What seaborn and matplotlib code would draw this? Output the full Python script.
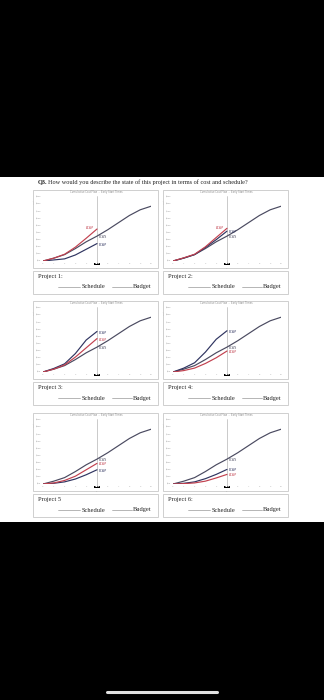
import matplotlib
matplotlib.use("Agg")
import numpy as np
import pandas as pd
import seaborn as sns
import matplotlib.pyplot as plt
from matplotlib.patches import Rectangle
from matplotlib.lines import Line2D

# ---------------- data ----------------
question = "How would you describe the state of this project in terms of cost and schedule?"
projects = ["Project 1:", "Project 2:", "Project 3:", "Project 4:", "Project 5", "Project 6:"]
periods = list(range(11))
status_period = 5
# cumulative planned value (BCWS), same baseline for every project ($K)
bcws = [0, 4, 9, 17.5, 27, 35, 44, 54, 64, 72, 77]
# earned value (BCWP) and actual cost (ACWP) up to the status date ($K)
bcwp = [
    [0, 1.5, 3, 8.5, 16.5, 24.5],
    [0, 4.2, 9, 19, 30, 42],
    [0, 5, 11.5, 26, 45, 57],
    [0, 5.5, 13, 28, 46, 58],
    [0, 1, 3, 7, 13, 20],
    [0, 1, 3, 7.5, 13.5, 20.5],
]
acwp = [
    [0, 4, 9.5, 19.5, 32, 45],
    [0, 4.5, 9.5, 20, 33, 46],
    [0, 4, 10, 21, 34, 47],
    [0, 2, 5.5, 12, 20, 29.5],
    [0, 1.5, 5, 11, 20, 29],
    [0, 0.5, 1.5, 4, 8.5, 13.5],
]
y_ticks = list(range(0, 100, 10))
y_tick_labels = ["$" + str(v) + "K" for v in y_ticks]
chart_title = "Cumulative Cost Flow  -  Early Start Times"
blank_labels = ["Schedule", "Budget"]

# ---------------- style ----------------
sns.set_theme(style="white")
plt.rcParams['font.family'] = ['Liberation Serif', 'DejaVu Serif']

C_PV = "#4a4a60"
C_EV = "#2f3460"
C_AC = "#c2414f"
BOX = "#c8c8c8"

W, H = 324, 700
fig = plt.figure(figsize=(W / 100, H / 100), dpi=100, facecolor="black")


def fy(py):
    return 1 - py / H


def rect(x, y, w, h):
    return [x / W, 1 - (y + h) / H, w / W, h / H]


# white page area
fig.patches.append(Rectangle((0, fy(522)), 1, (522 - 177) / H, transform=fig.transFigure,
                             facecolor="white", edgecolor="none", zorder=-5))

fig.text(38 / W, fy(182), "Q3.", fontsize=4.5, fontweight="bold", color="#222222",
         va="center", ha="left")
fig.text(48.5 / W, fy(182), question, fontsize=4.5, color="#222222", va="center", ha="left")

col_x = [33, 163]
row_y = [190, 301, 413]
label_left = [True, True, False, False, False, False]

for i in range(6):
    bx = col_x[i % 2]
    by = row_y[i // 2]
    # chart frame
    fig.patches.append(Rectangle((bx / W, fy(by + 78)), 125 / W, 78 / H, transform=fig.transFigure,
                                 facecolor="none", edgecolor=BOX, lw=0.6))
    fig.text((bx + 63) / W, fy(by + 2.5), chart_title, fontsize=1.8, color="#888888",
             ha="center", va="center", family=["DejaVu Sans"])

    ax = fig.add_axes(rect(bx + 10, by + 7, 108, 64))
    ax.set_facecolor("none")
    df_pv = pd.DataFrame({"period": periods, "value": bcws})
    df_ev = pd.DataFrame({"period": periods[:len(bcwp[i])], "value": bcwp[i]})
    df_ac = pd.DataFrame({"period": periods[:len(acwp[i])], "value": acwp[i]})
    sns.lineplot(data=df_pv, x="period", y="value", ax=ax, color=C_PV, lw=0.85, legend=False)
    sns.lineplot(data=df_ev, x="period", y="value", ax=ax, color=C_EV, lw=0.85, legend=False)
    sns.lineplot(data=df_ac, x="period", y="value", ax=ax, color=C_AC, lw=0.85, legend=False)
    ax.set_xlim(0, 10)
    ax.set_ylim(0, 90)
    ax.plot([status_period, status_period], [-3, 92], color="#b5b5b5", lw=0.5, clip_on=False, zorder=0)
    for s in ax.spines.values():
        s.set_visible(False)
    ax.set_xlabel("")
    ax.set_ylabel("")
    ax.set_yticks(y_ticks)
    ax.set_yticklabels(y_tick_labels, fontsize=1.5, color="#999999", family=["DejaVu Sans"])
    ax.set_xticks(periods)
    ax.set_xticklabels([str(p) for p in periods], fontsize=1.5, color="#aaaaaa", family=["DejaVu Sans"])
    ax.tick_params(length=0, pad=1.5)
    ax.text(-0.085, 0.97, "Cost", rotation=90, transform=ax.transAxes, fontsize=1.6,
            color="#999999", ha="center", va="top", family=["DejaVu Sans"])
    ax.text(status_period, -3.0, "Now", fontsize=1.5, color="white", fontweight="bold",
            ha="center", va="top", family=["DejaVu Sans"],
            bbox=dict(boxstyle="square,pad=0.2", facecolor="black", edgecolor="none"))
    ax.text(status_period, -9.5, str(status_period), fontsize=1.6, color="#333333",
            ha="center", va="top", family=["DejaVu Sans"])

    # end labels
    ends = [("BCWS", bcws[status_period], C_PV, False),
            ("BCWP", bcwp[i][-1], C_EV, False),
            ("ACWP", acwp[i][-1], C_AC, label_left[i])]
    for name, val, col, left in ends:
        if left:
            ax.text(status_period - 0.25, val + 1.0, name, fontsize=2.0, color=col,
                    ha="right", va="center", family=["DejaVu Sans"])
        else:
            ax.text(status_period + 0.2, val - 1.5, name, fontsize=2.0, color=col,
                    ha="left", va="center", family=["DejaVu Sans"])

    # answer box
    ly = by + 81
    fig.patches.append(Rectangle((bx / W, fy(ly + 23)), 125 / W, 23 / H, transform=fig.transFigure,
                                 facecolor="none", edgecolor=BOX, lw=0.6))
    fig.text((bx + 5) / W, fy(ly + 5.5), projects[i], fontsize=4.6, color="#222222",
             ha="left", va="center")
    fig.lines.append(Line2D([(bx + 25) / W, (bx + 47) / W], [fy(ly + 16)] * 2,
                            transform=fig.transFigure, color="#999999", lw=0.5))
    fig.text((bx + 49) / W, fy(ly + 16), blank_labels[0], fontsize=4.6, color="#222222",
             ha="left", va="center")
    fig.lines.append(Line2D([(bx + 79) / W, (bx + 99) / W], [fy(ly + 16)] * 2,
                            transform=fig.transFigure, color="#999999", lw=0.5))
    fig.text((bx + 100) / W, fy(ly + 16), blank_labels[1], fontsize=4.6, color="#222222",
             ha="left", va="center")

# home indicator
fig.lines.append(Line2D([107 / W, 217 / W], [fy(691.5)] * 2, transform=fig.transFigure,
                        color="#e2e2e2", lw=2.2, solid_capstyle="round"))

fig.savefig("out.png", dpi=100, facecolor="black")
